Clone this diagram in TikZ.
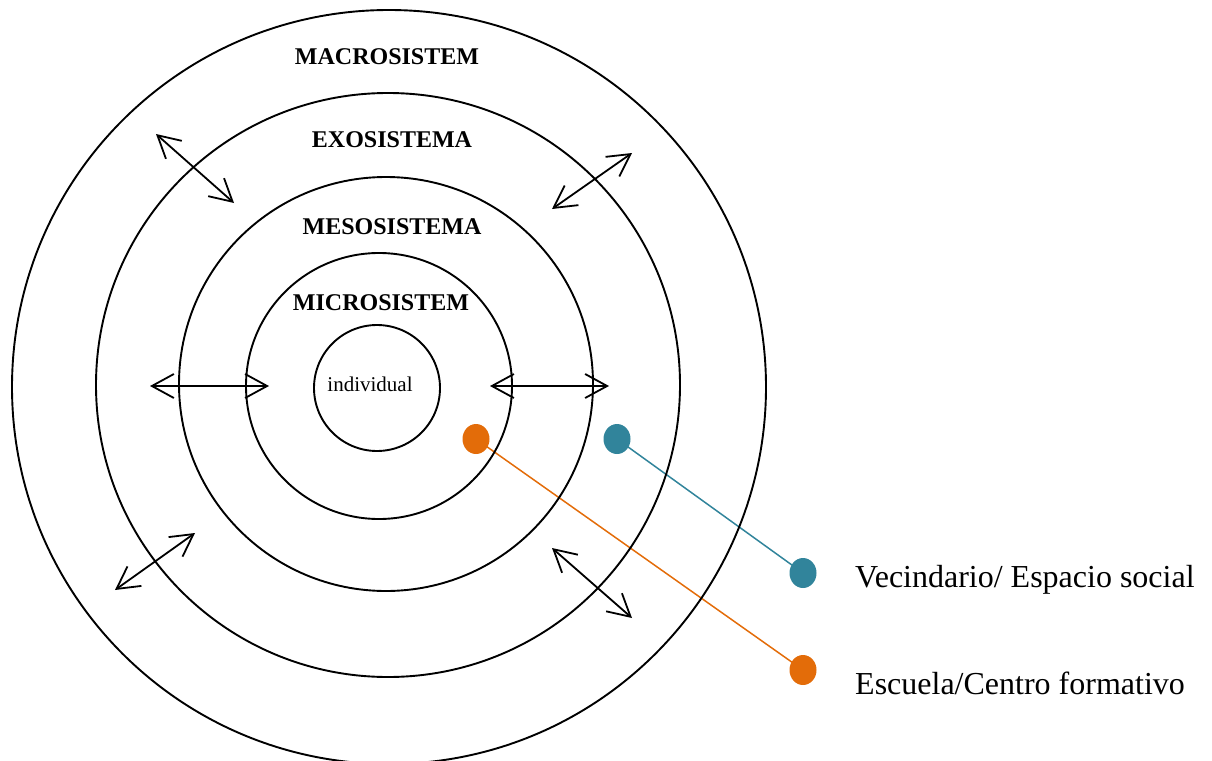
\documentclass[tikz,border=0pt]{standalone}
\usepackage{fontspec}
\setmainfont{Liberation Serif}
\usetikzlibrary{arrows.meta,shapes.geometric,backgrounds}
\definecolor{accorange}{HTML}{E36C09}
\definecolor{accteal}{HTML}{31849B}
\begin{document}
\begin{tikzpicture}[x=1pt,y=-1pt,
  ring/.style={draw=black,line width=1.9pt,circle,inner sep=0pt},
  layerlabel/.style={font=\fontsize{24}{28}\selectfont\bfseries,inner sep=0pt},
  twoway/.style={line width=1.8pt,{Straight Barb[length=22pt,width=24pt,line width=1.8pt]}-{Straight Barb[length=22pt,width=24pt,line width=1.8pt]}},
  dot/.style={ellipse,minimum width=27pt,minimum height=30pt,inner sep=0pt},
  legendtext/.style={font=\fontsize{32}{36}\selectfont,inner sep=0pt,anchor=base west}]
\useasboundingbox (0,0) rectangle (1212,760);

% concentric system rings
\node[ring,minimum size=754pt] (macro) at (389,387) {};
\node[ring,minimum size=584pt] (exo) at (388,385) {};
\node[ring,minimum size=414pt] (meso) at (386,384) {};
\node[ring,minimum size=266pt] (micro) at (379,386) {};
\node[ring,minimum size=126pt] (ind) at (377,388) {};

% ring labels
\node[layerlabel] (lmacro) at (387,57) {MACROSISTEM};
\node[layerlabel] (lexo) at (392,140) {EXOSISTEMA};
\node[layerlabel] (lmeso) at (392,227) {MESOSISTEMA};
\node[layerlabel] (lmicro) at (381,303) {MICROSISTEM};
\node[font=\fontsize{21}{24}\selectfont,inner sep=0pt] (lind) at (370,384) {individual};

% interaction arrows between layers
\coordinate (a1) at (156,134); \coordinate (a2) at (234,203);
\coordinate (b1) at (632,153); \coordinate (b2) at (552,209);
\coordinate (c1) at (150,386); \coordinate (c2) at (269,386);
\coordinate (d1) at (490,386); \coordinate (d2) at (609,386);
\coordinate (e1) at (195,533); \coordinate (e2) at (115,590);
\coordinate (f1) at (552,548); \coordinate (f2) at (632,618);
\draw[twoway] (a1) -- (a2);
\draw[twoway] (b1) -- (b2);
\draw[twoway] (c1) -- (c2);
\draw[twoway] (d1) -- (d2);
\draw[twoway] (e1) -- (e2);
\draw[twoway] (f1) -- (f2);

% context markers and legend
\node[dot,fill=accorange] (school) at (476,439) {};
\node[dot,fill=accteal] (hood) at (617,439) {};
\node[dot,fill=accteal] (hoodkey) at (803,573) {};
\node[dot,fill=accorange] (schoolkey) at (803,670) {};
\begin{scope}[on background layer]
\draw[accteal,line width=1.5pt] (hood.center) -- (hoodkey.center);
\draw[accorange,line width=1.5pt] (school.center) -- (schoolkey.center);
\end{scope}
\node[legendtext] (thood) at (855,587) {Vecindario/ Espacio social};
\node[legendtext] (tschool) at (855,694) {Escuela/Centro formativo};
\end{tikzpicture}
\end{document}
